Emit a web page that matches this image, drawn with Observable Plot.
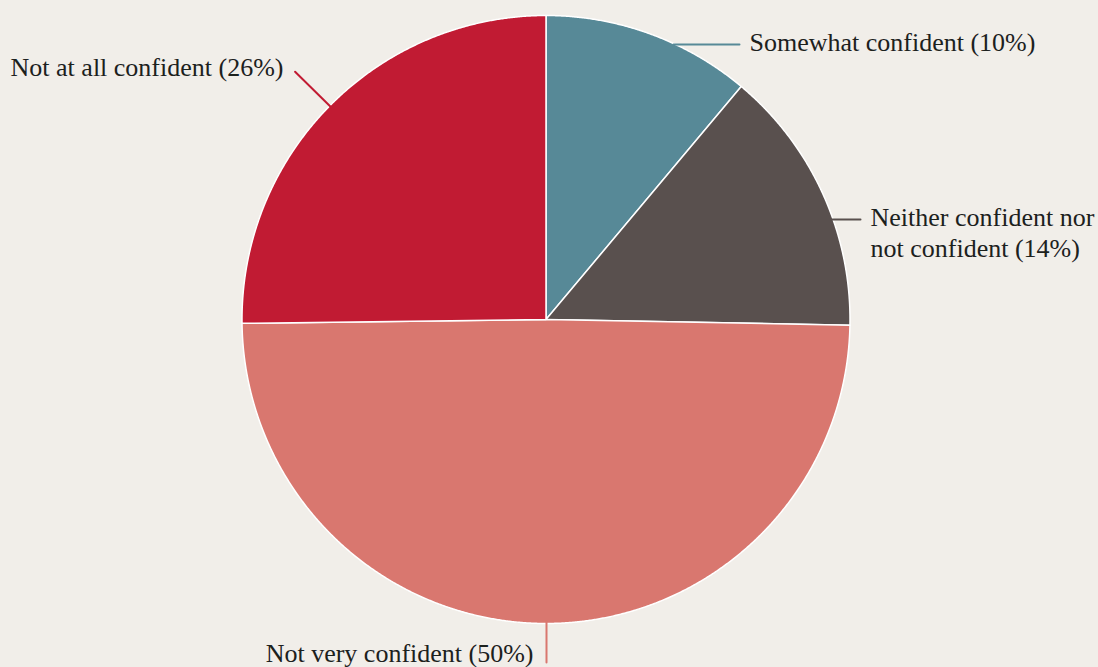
<!DOCTYPE html>
<html>
<head>
<meta charset="utf-8">
<script src="https://cdn.jsdelivr.net/npm/d3@7"></script>
<script src="https://cdn.jsdelivr.net/npm/@observablehq/plot@0.6"></script>
<style>
  html, body { margin: 0; padding: 0; background: #f1eee9; }
  #chart { width: 1098px; height: 667px; overflow: hidden; }
  svg { display: block; }
</style>
</head>
<body>
<div id="chart"></div>
<script>
// ---- data ----
const categories = ["Somewhat confident", "Neither confident nor not confident", "Not very confident", "Not at all confident"];
const values = [11.1, 14.2, 49.5, 25.2];          // slice shares as drawn
const shownPct = ["10%", "14%", "50%", "26%"];    // label percentages
const labelNames = ["Somewhat confident", "Neither confident nor\nnot confident", "Not very confident", "Not at all confident"];
const labelTexts = labelNames.map((n, i) => `${n} (${shownPct[i]})`);
const colors = ["#578997", "#59504e", "#d9776f", "#c11b33"];

// ---- layout ----
const W = 1098, H = 667;
const cx = 545.5, cy = 319, R = 304;

const pie = d3.pie().sort(null).value(d => d.value).startAngle(0).endAngle(2 * Math.PI);
const arcs = pie(categories.map((c, i) => ({key: c, value: values[i]})));

const pts = [];
arcs.forEach(a => {
  const key = a.data.key;
  pts.push({key, x: 0, y: 0});
  const n = Math.max(2, Math.ceil((a.endAngle - a.startAngle) / 0.004));
  for (let k = 0; k <= n; k++) {
    const t = a.startAngle + (a.endAngle - a.startAngle) * k / n;
    pts.push({key, x: R * Math.sin(t), y: R * Math.cos(t)});
  }
});

const edgeX = y => Math.sqrt(R * R - y * y);
const mid = a => (a.startAngle + a.endAngle) / 2;

// annotation placement (in units relative to the pie centre, y up)
const aMidNotAtAll = mid(arcs[3]);
const leaders = [
  {key: categories[0], pts: [[edgeX(275) - 2, 275], [193.5, 275]]},
  {key: categories[1], pts: [[edgeX(100) - 2, 100], [314.5, 100]]},
  {key: categories[2], pts: [[0.5, -R + 2], [0.5, -343]]},
  {key: categories[3], pts: [[(R - 2) * Math.sin(aMidNotAtAll), (R - 2) * Math.cos(aMidNotAtAll)],
                             [(R * 1.16) * Math.sin(aMidNotAtAll), (R * 1.16) * Math.cos(aMidNotAtAll)]]}
];
const leaderPts = leaders.flatMap(l => l.pts.map(p => ({key: l.key, x: p[0], y: p[1]})));

const labels = [
  {text: labelTexts[0], x: 203.5, y: 278, anchor: "start"},
  {text: labelTexts[1], x: 324.5, y: 87.7, anchor: "start"},
  {text: labelTexts[2], x: -12.5, y: -332.5, anchor: "end"},
  {text: labelTexts[3], x: -262.5, y: 253.3, anchor: "end"}
];

const chart = Plot.plot({
  width: W,
  height: H,
  margin: 0,
  x: {domain: [-cx, W - cx], range: [0, W], axis: null},
  y: {domain: [cy - H, cy], range: [H, 0], axis: null},
  color: {domain: categories, range: colors},
  style: {background: "transparent", overflow: "visible"},
  marks: [
    Plot.line(pts, {x: "x", y: "y", z: "key", fill: "key", stroke: "#ffffff", strokeWidth: 1.5,
                    strokeLinejoin: "round", curve: "linear-closed"}),
    Plot.line(leaderPts, {x: "x", y: "y", z: "key", stroke: "key", strokeWidth: 2}),
    Plot.text(labels.filter(d => d.anchor === "start"), {x: "x", y: "y", text: "text", textAnchor: "start",
      lineAnchor: "middle", lineHeight: 1.18, fontSize: 26, fontFamily: "Liberation Serif, serif", fill: "#1c211d"}),
    Plot.text(labels.filter(d => d.anchor === "end"), {x: "x", y: "y", text: "text", textAnchor: "end",
      lineAnchor: "middle", lineHeight: 1.18, fontSize: 26, fontFamily: "Liberation Serif, serif", fill: "#1c211d"})
  ]
});
document.getElementById("chart").appendChild(chart);
</script>
</body>
</html>
